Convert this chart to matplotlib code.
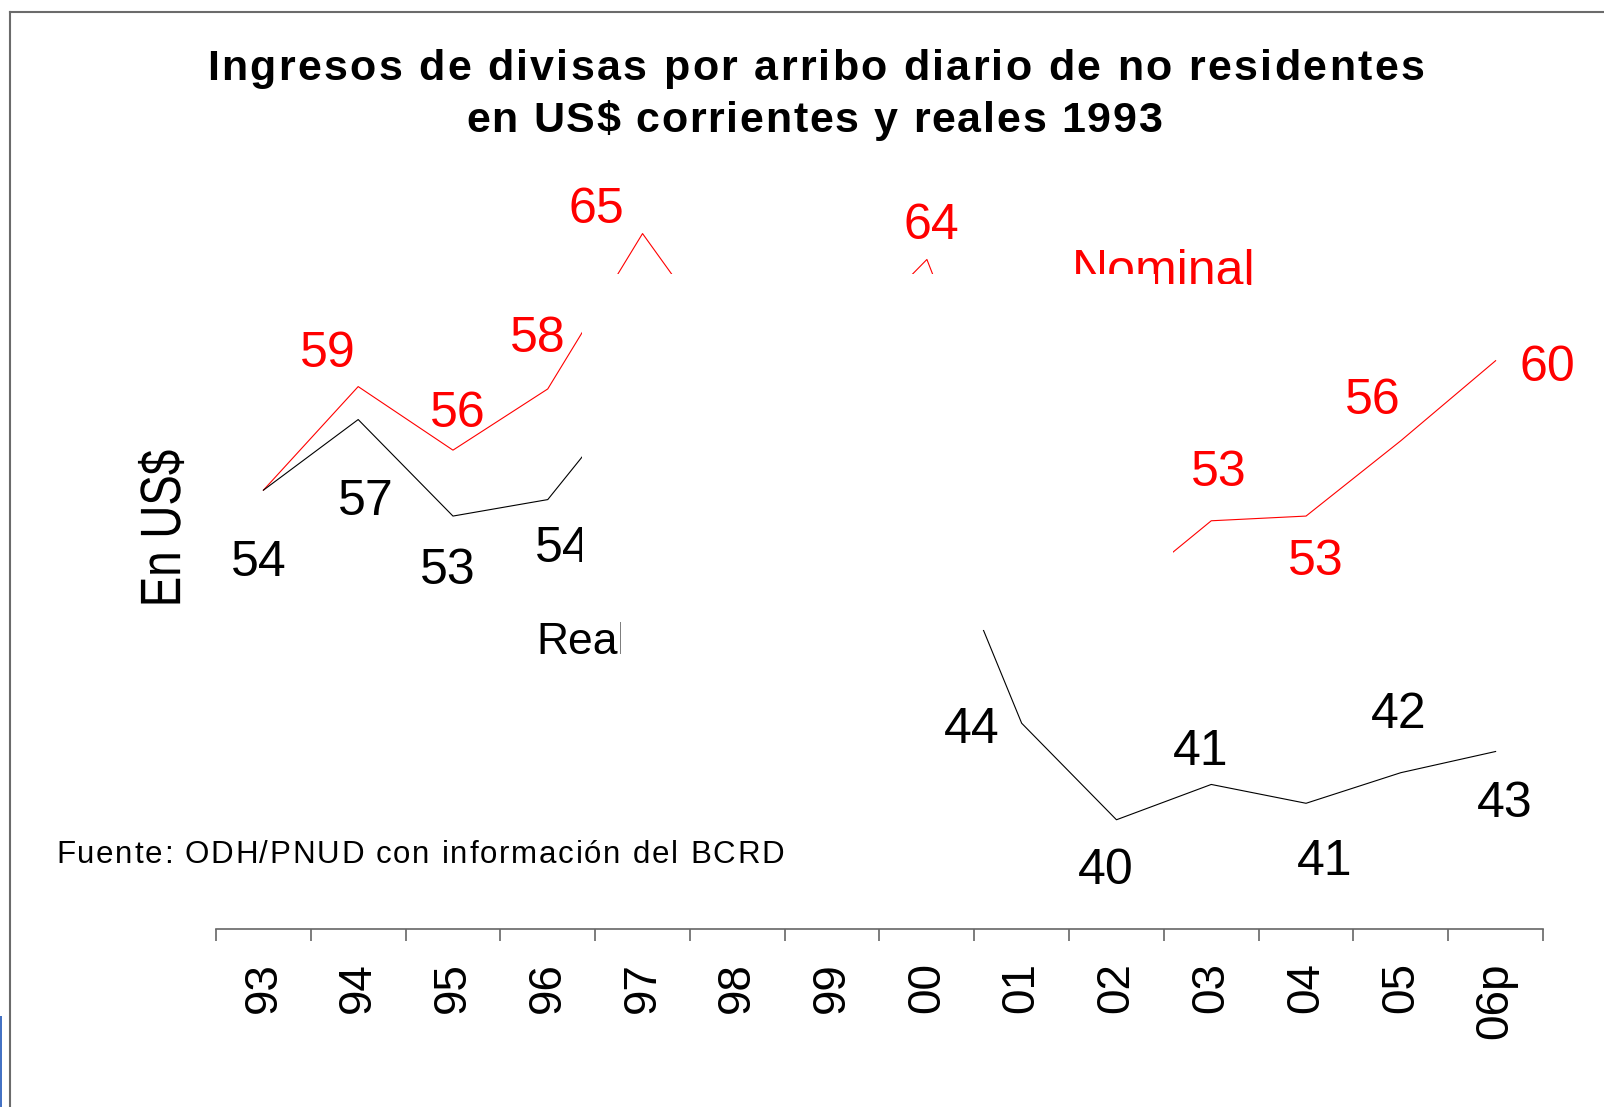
import matplotlib.pyplot as plt
from matplotlib.patches import Polygon, Rectangle, PathPatch
from matplotlib.lines import Line2D
from matplotlib.textpath import TextPath
from matplotlib.font_manager import FontProperties, findfont
from matplotlib import ft2font
import matplotlib.transforms as mtransforms

W, H = 1604, 1107

years = ['93', '94', '95', '96', '97', '98', '99', '00', '01', '02', '03', '04', '05', '06p']
nominal = [54.0, 58.4, 55.7, 58.3, 64.9, 59.3, 59.7, 63.8, 53.5, 49.4, 52.7, 52.9, 56.1, 59.5]
real = [54.0, 57.0, 52.9, 53.6, 58.6, 56.0, 55.0, 53.9, 44.1, 40.0, 41.5, 40.7, 42.0, 42.9]
nominal_labels = ['', '59', '56', '58', '65', '', '', '64', '', '', '53', '53', '56', '60']
real_labels = ['54', '57', '53', '54', '', '', '', '', '44', '40', '41', '41', '42', '43']

# label offsets in pixels (dx, dy up)
nom_off = [(0, 0), (-30, 37), (5, 40), (-10, 54), (-46, 28), (0, 0), (0, 0), (4, 37),
           (0, 0), (0, 0), (8, 52), (10, -42), (-28, 44), (52, -3)]
real_off = [(-5, -69), (8, -78), (-5, -51), (15, -45), (0, 0), (0, 0), (0, 0), (0, 0),
            (-50, -3), (-11, -47), (-11, 36), (19, -55), (-2, 62), (9, -49)]

plt.rcParams['font.family'] = ['Liberation Sans', 'DejaVu Sans']

fig = plt.figure(figsize=(W / 100, H / 100), dpi=100)
ax = fig.add_axes([216 / W, (H - 929) / H, (1543 - 216) / W, (929 - 170) / H])
x = list(range(len(years)))
ax.plot(x, nominal, color='red', lw=0.8)
ax.plot(x, real, color='black', lw=0.8)
ax.set_xlim(-0.5, len(years) - 0.5)
ax.set_ylim(35.36, 67.6)

for i, t in enumerate(nominal_labels):
    if t:
        ax.annotate(t, (i, nominal[i]), xytext=(nom_off[i][0], nom_off[i][1] - 4),
                    textcoords='offset pixels', ha='center', va='center', color='red', fontsize=36)
for i, t in enumerate(real_labels):
    if t:
        ax.annotate(t, (i, real[i]), xytext=(real_off[i][0], real_off[i][1] - 4),
                    textcoords='offset pixels', ha='center', va='center', color='black', fontsize=36)

for s in ['top', 'right', 'left']:
    ax.spines[s].set_visible(False)
ax.spines['bottom'].set_color('#666666')
ax.spines['bottom'].set_linewidth(1.2)
ax.set_yticks([])
ax.set_xticks(x)
ax.set_xticklabels(years, rotation=90, fontsize=33)
ax.tick_params(axis='x', which='major', length=0, pad=24)
ax.set_xticks([i - 0.5 for i in range(len(years) + 1)], minor=True)
ax.tick_params(axis='x', which='minor', length=8.6, width=1.2, color='#666666', direction='out')


def fx(px):
    return px / W


def fy(py):
    return 1 - py / H


def spaced_text(s, left, cy, target_w, size, weight='normal'):
    # draw a string letter by letter with extra tracking so it fills target_w pixels
    font = ft2font.FT2Font(findfont(FontProperties(family='Liberation Sans', weight=weight)))
    font.set_size(size, 100)
    adv = [font.load_char(ord(c)).linearHoriAdvance / 65536 for c in s]
    extra = (target_w - sum(adv)) / (len(s) - 1)
    pos = left
    for c, a in zip(s, adv):
        if c != ' ':
            fig.text(fx(pos), fy(cy), c, ha='left', va='center', fontsize=size, fontweight=weight)
        pos += a + extra


spaced_text('Ingresos de divisas por arribo diario de no residentes', 207, 69, 1217, 31, 'bold')
spaced_text('en US$ corrientes y reales 1993', 466, 121, 696, 31, 'bold')
spaced_text('Fuente: ODH/PNUD con información del BCRD', 56, 855, 728, 22.5)

# condensed rotated axis title
tp = TextPath((0, 0), 'En US$', size=57, prop=FontProperties(family='Liberation Sans'))
bb = tp.get_extents()
tr = (mtransforms.Affine2D()
      .translate(-(bb.x0 + bb.x1) / 2, -(bb.y0 + bb.y1) / 2)
      .scale(153 / bb.width, 1)
      .rotate_deg(90)
      .translate(161, H - 527)
      .scale(1 / 100))
fig.patches.append(PathPatch(tp, facecolor='black', edgecolor='none',
                             transform=tr + fig.dpi_scale_trans))

fig.text(fx(536), fy(642), 'Real', ha='left', va='center', fontsize=32)
fig.text(fx(1072), fy(285), 'Nominal', ha='left', va='baseline', fontsize=36, color='red')

# white shape that hides the middle of the chart
occ = [(582, 274), (1155, 274), (1155, 284), (1248, 284), (1190, 445), (1173, 551),
       (1173, 625), (982, 630), (621, 668), (621, 600), (582, 600)]
fig.patches.append(Polygon([(fx(a), fy(b)) for a, b in occ], closed=True, facecolor='white',
                           edgecolor='none', transform=fig.transFigure, zorder=10))

# frame lines
fig.lines.append(Line2D([fx(10), fx(W)], [fy(12), fy(12)], color='#6b6b6b', lw=1.5,
                        transform=fig.transFigure))
fig.lines.append(Line2D([fx(10), fx(10)], [fy(12), fy(H)], color='#6b6b6b', lw=1.5,
                        transform=fig.transFigure))
fig.patches.append(Rectangle((0, 0), fx(2), (H - 1016) / H, facecolor='#4472c4',
                             edgecolor='none', transform=fig.transFigure))

fig.savefig('out.png', dpi=100)
